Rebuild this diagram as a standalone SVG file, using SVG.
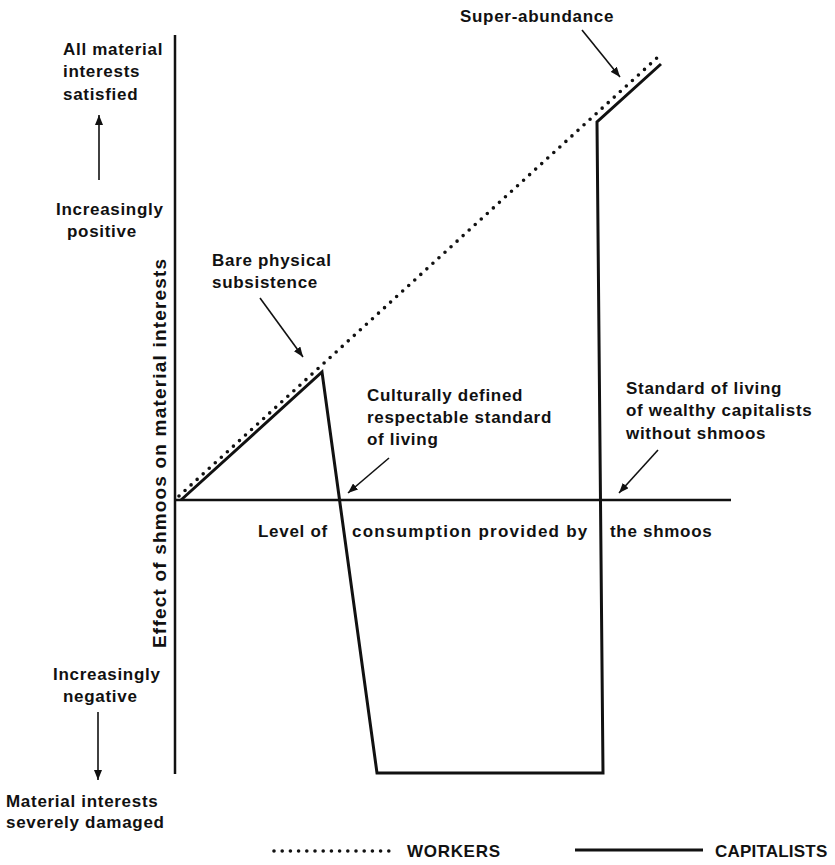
<svg xmlns="http://www.w3.org/2000/svg" width="835" height="865" viewBox="0 0 835 865">
<style>
text{font-family:"Liberation Sans",Arial,Helvetica,sans-serif;font-weight:bold;font-size:17px;letter-spacing:0.7px;fill:#111}
.ylab{font-size:19px;letter-spacing:0.8px}
.axis{stroke:#111;stroke-width:2.5;fill:none}
.cap{stroke:#111;stroke-width:3;fill:none;stroke-linejoin:miter}
.work{stroke:#111;stroke-width:3.6;fill:none;stroke-linecap:round;stroke-dasharray:0 8.2}
.ann{stroke:#111;stroke-width:1.6;fill:none;marker-end:url(#ah)}
</style>
<defs>
<marker id="ah" viewBox="0 0 10 8" refX="10" refY="4" markerWidth="10" markerHeight="8" orient="auto" markerUnits="userSpaceOnUse">
<path d="M0,0 L10,4 L0,8 z" fill="#111"/>
</marker>
</defs>
<rect width="835" height="865" fill="#fff"/>

<g id="axes">
<line class="axis" x1="175" y1="35" x2="175" y2="774"/>
<line class="axis" x1="175" y1="500" x2="731" y2="500"/>
</g>

<g id="workers-curve">
<path class="work" d="M179,496 L658,57"/>
</g>
<g id="capitalists-curve">
<path class="cap" d="M181,500 L322,372 L377,773 L603,773 L597,122 L661,64"/>
</g>

<g id="connectors">
<path class="ann" d="M99,180 L99,115"/>
<path class="ann" d="M98,712 L98,780"/>
<path class="ann" d="M260,298 L303,357"/>
<path class="ann" d="M582,30 L620,77"/>
<path class="ann" d="M389,458 L348,493"/>
<path class="ann" d="M658,450 L619,493"/>
</g>

<g id="label-top-left">
<text x="63" y="55">All material</text>
<text x="63" y="77">interests</text>
<text x="63" y="100">satisfied</text>
</g>
<g id="label-positive">
<text x="56" y="215">Increasingly</text>
<text x="67" y="237">positive</text>
</g>
<g id="label-negative">
<text x="53" y="680">Increasingly</text>
<text x="63" y="702">negative</text>
</g>
<g id="label-bottom-left">
<text x="6" y="807">Material interests</text>
<text x="6" y="828">severely damaged</text>
</g>
<g id="y-axis-label">
<text class="ylab" transform="translate(166,453) rotate(-90)" text-anchor="middle" textLength="390" lengthAdjust="spacing">Effect of shmoos on material interests</text>
</g>
<g id="x-axis-label">
<text x="258" y="537">Level  of</text>
<text x="352" y="537" textLength="236" lengthAdjust="spacing">consumption provided  by</text>
<text x="610" y="537">the shmoos</text>
</g>
<g id="label-super-abundance">
<text x="460" y="22">Super-abundance</text>
</g>
<g id="label-bare-subsistence">
<text x="212" y="266">Bare physical</text>
<text x="212" y="288">subsistence</text>
</g>
<g id="label-culturally-defined">
<text x="367" y="401">Culturally defined</text>
<text x="367" y="423">respectable standard</text>
<text x="367" y="445">of living</text>
</g>
<g id="label-wealthy-capitalists">
<text x="626" y="394">Standard of living</text>
<text x="626" y="416">of wealthy capitalists</text>
<text x="626" y="439">without shmoos</text>
</g>
<g id="legend">
<line class="work" x1="274" y1="851" x2="395" y2="851"/>
<text x="407" y="857">WORKERS</text>
<line class="cap" stroke-width="2.5" x1="575" y1="850" x2="703" y2="850"/>
<text x="715" y="857" textLength="113" lengthAdjust="spacing">CAPITALISTS</text>
</g>
</svg>
